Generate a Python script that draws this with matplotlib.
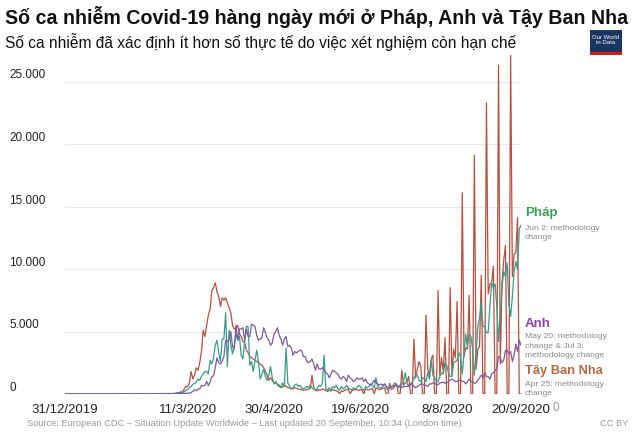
import matplotlib
matplotlib.use("Agg")
import matplotlib.pyplot as plt
import matplotlib.patches as mpatches
import pandas as pd

plt.rcParams['font.family'] = ['Liberation Sans', 'DejaVu Sans']

# daily new cases, 1 Mar -> 20 Sep 2020; flat 0 before March
start_date = "2019-12-31"
first_day = "2020-03-01"

spain = [
    # Mar
    0, 10, 30, 50, 60, 90, 100, 170, 400, 620,
    580, 870, 1800, 1200, 1500, 2100, 1900, 2500, 3400, 5100,
    4600, 5500, 6300, 6800, 8300, 8500, 8900, 8200, 7800, 7000, 7700,
    # Apr
    7500, 7700, 7300, 6900, 6500, 5500, 5200, 5300, 5500, 4800,
    4600, 4200, 4100, 3500, 3300, 3000, 2900, 2800, 2700, 2600,
    2500, 2400, 2300, 2100, 1800, 1500, 1100, 1300, 1100, 900,
    # May
    900, 800, 700, 600, 550, 700, 600, 500, 480, 450,
    400, 500, 450, 400, 380, 350, 300, 320, 350, 400,
    450, 1500, 500, 300, 250, 350, 300, 400, 350, 300, 200,
    # Jun
    300, 250, 350, 300, 250, 200, 0, 250, 200, 300,
    350, 400, 0, 250, 300, 350, 350, 300, 350, 300,
    0, 400, 350, 330, 400, 450, 0, 500, 400, 350,
    # Jul
    400, 450, 500, 0, 0, 850, 350, 450, 600, 800,
    0, 0, 1900, 700, 900, 1000, 1400, 0, 0, 4400,
    1300, 2000, 2600, 2200, 0, 0, 6300, 2000, 1500, 2800, 3100,
    # Aug
    0, 0, 8300, 1500, 2900, 1800, 4500, 0, 0, 8500,
    1500, 3600, 2900, 7400, 0, 0, 16100, 3000, 3700, 3600,
    7900, 0, 0, 19100, 2000, 3600, 3800, 9500, 0, 0, 23300,
    # Sep
    8000, 8800, 8900, 10200, 0, 0, 26300, 2400, 8900, 10700,
    11900, 0, 0, 27100, 9400, 11200, 11300, 14100, 0, 0,
]

france = [
    # Mar
    40, 30, 60, 20, 100, 100, 190, 100, 180, 290,
    370, 500, 600, 780, 840, 920, 1200, 1100, 1400, 1600,
    1800, 1800, 1600, 2700, 2400, 2900, 3900, 4300, 3300, 2600, 4400,
    # Apr
    4400, 6500, 2200, 5100, 4000, 3200, 3900, 4800, 4300, 4600,
    3100, 2800, 4200, 5400, 5400, 2300, 2600, 1800, 2700, 3500,
    2600, 1200, 1600, 2000, 1400, 1100, 1500, 2200, 1300, 800,
    # May
    1000, 700, 600, 500, 900, 600, 3700, 900, 600, 400,
    500, 700, 800, 600, 700, 500, 400, 500, 600, 500,
    700, 500, 400, 300, 400, 700, 600, 900, 3100, 400, 300,
    # Jun
    500, 300, 600, 500, 700, 400, 300, 600, 400, 500,
    700, 500, 400, 300, 500, 400, 500, 700, 600, 400,
    300, 600, 500, 600, 800, 700, 500, 1300, 600, 500,
    # Jul
    500, 600, 800, 500, 300, 500, 600, 700, 900, 700,
    500, 600, 800, 1000, 1700, 900, 600, 700, 1000, 1200,
    1600, 1500, 1100, 1000, 1300, 1200, 1000, 1700, 1200, 2700, 1500,
    # Aug
    1300, 1000, 1000, 1400, 1700, 1600, 2500, 2300, 1700, 1400,
    1400, 2500, 2600, 2700, 3300, 3000, 1600, 3200, 4800, 3800,
    4800, 4600, 3600, 1500, 3300, 5400, 6100, 7300, 5400, 5400, 4900,
    # Sep
    4900, 7000, 8900, 8500, 8800, 7000, 4200, 6500, 8600, 9800,
    9400, 10500, 7200, 6200, 7800, 9800, 10600, 10000, 13200, 13500,
]

uk = [
    # Mar
    10, 10, 10, 50, 30, 50, 50, 60, 50, 50,
    80, 50, 130, 200, 340, 250, 400, 400, 680, 640,
    700, 1000, 670, 970, 1400, 1450, 2100, 2900, 2500, 2400, 2600,
    # Apr
    3000, 4300, 4200, 4400, 5000, 3800, 3600, 5500, 4300, 5200,
    5200, 5300, 4300, 5200, 4600, 4600, 5600, 5500, 5400, 4700,
    4300, 4400, 4500, 5300, 4900, 4500, 4300, 3900, 4100, 4800,
    # May
    5000, 5300, 4700, 4400, 3900, 4400, 4600, 3800, 3900, 3700,
    3100, 3400, 3300, 3400, 3500, 3500, 3000, 3000, 2600, 2500,
    2600, 2800, 2400, 1900, 2400, 2000, 2000, 2100, 1900, 1700, 1600,
    # Jun
    1300, 1600, 1900, 1800, 1700, 1600, 1300, 1200, 1400, 1300,
    1000, 1500, 1300, 1200, 1000, 1100, 1300, 1200, 1200, 1300,
    1000, 1200, 900, 800, 700, 900, 1100, 900, 800, 700,
    # Jul
    800, 700, 800, 600, 500, 500, 600, 600, 700, 700,
    600, 700, 500, 600, 600, 600, 700, 800, 800, 600,
    500, 600, 700, 800, 800, 700, 700, 600, 800, 800, 900,
    # Aug
    900, 750, 740, 900, 900, 950, 850, 900, 1000, 1100,
    1200, 1100, 1000, 1000, 1100, 1100, 1000, 1000, 800, 1000,
    1200, 1000, 1000, 850, 900, 1100, 1300, 1500, 1300, 1700, 1400,
    # Sep
    1400, 1200, 1600, 1700, 1900, 2000, 3000, 2900, 2500, 2700,
    3500, 3500, 3200, 3400, 2600, 3100, 4000, 3400, 4300, 3900,
]

tick_dates = ["2019-12-31", "2020-03-11", "2020-04-30", "2020-06-19", "2020-08-08", "2020-09-20"]
tick_labels = ["31/12/2019", "11/3/2020", "30/4/2020", "19/6/2020", "8/8/2020", "20/9/2020"]
y_ticks = [0, 5000, 10000, 15000, 20000, 25000]
y_labels = ["0", "5.000", "10.000", "15.000", "20.000", "25.000"]

days = pd.date_range(first_day, periods=len(france), freq="D")
x = [pd.Timestamp(start_date)] + list(days)

W, H = 640, 434
fig = plt.figure(figsize=(W / 100, H / 100), dpi=100)
ax = fig.add_axes([65 / W, (H - 394) / H, (521 - 65) / W, (394 - 55) / H])

ax.plot(x, [0] + spain, color="#b4513f", lw=0.9)
ax.plot(x, [0] + france, color="#3a9a8c", lw=0.9)
ax.plot(x, [0] + uk, color="#7e5a9e", lw=0.9)

ax.set_xlim(pd.Timestamp(start_date), pd.Timestamp("2020-09-20"))
ax.set_ylim(0, 27120)
ax.set_xticks([pd.Timestamp(d) for d in tick_dates])
ax.set_xticklabels(tick_labels, fontsize=9.5, color="#222222")
ax.set_yticks(y_ticks)
ax.set_yticklabels(y_labels, fontsize=8.5, color="#222222", ha="left", va="bottom")
ax.tick_params(axis="x", length=0, pad=7)
ax.tick_params(axis="y", length=0, pad=40)
ax.grid(axis="y", color="#e6e6e6", lw=0.8)
ax.set_axisbelow(True)
for s in ax.spines.values():
    s.set_visible(False)

# titles
fig.text(5 / W, 1 - 17 / H, "Số ca nhiễm Covid-19 hàng ngày mới ở Pháp, Anh và Tậy Ban Nha",
         fontsize=14.1, fontweight="bold", va="center", ha="left", color="#111111")
fig.text(5 / W, 1 - 42 / H, "Số ca nhiễm đã xác định ít hơn số thực tế do việc xét nghiệm còn hạn chế",
         fontsize=11.2, va="center", ha="left", color="#111111")

# logo
logo = fig.add_axes([590 / W, 1 - 55 / H, 32 / W, 25 / H])
logo.add_patch(mpatches.Rectangle((0, 0.12), 1, 0.88, color="#1a3560"))
logo.add_patch(mpatches.Rectangle((0, 0), 1, 0.12, color="#c8201f"))
logo.text(0.5, 0.58, "Our World\nin Data", color="white", fontsize=4.3, ha="center", va="center",
          linespacing=1.0)
logo.set_xlim(0, 1)
logo.set_ylim(0, 1)
logo.axis("off")

# end labels
lx = 525 / W
fig.text(lx, 1 - 213 / H, "Pháp", color="#3a9e55", fontsize=9.5, fontweight="bold", va="center")
fig.text(lx, 1 - 233 / H, "Jun 2: methodology\nchange", color="#888888", fontsize=6.1,
         va="center", linespacing=1.5)
fig.text(lx, 1 - 346 / H, "May 20: methodology\nchange & Jul 3:\nmethodology change",
         color="#888888", fontsize=6.1, va="center", linespacing=1.45)
fig.text(lx, 1 - 324 / H, "Anh", color="#8a44a0", fontsize=9.5, fontweight="bold", va="center")
fig.text(lx, 1 - 371 / H, "Tây Ban Nha", color="#b06a45", fontsize=9.3, fontweight="bold", va="center")
fig.text(lx, 1 - 389 / H, "Apr 25: methodology\nchange", color="#888888", fontsize=6.1,
         va="center", linespacing=1.5)

fig.text(556 / W, 1 - 408 / H, "0", color="#999999", fontsize=8.5, va="center", ha="center")

# footer
fig.text(27 / W, 1 - 424 / H,
         "Source: European CDC – Situation Update Worldwide – Last updated 20 September, 10:34 (London time)",
         color="#9a9a9a", fontsize=6.7, va="center", ha="left")
fig.text(628 / W, 1 - 424 / H, "CC BY", color="#9a9a9a", fontsize=6.7, va="center", ha="right")

fig.savefig("out.png", dpi=100)
